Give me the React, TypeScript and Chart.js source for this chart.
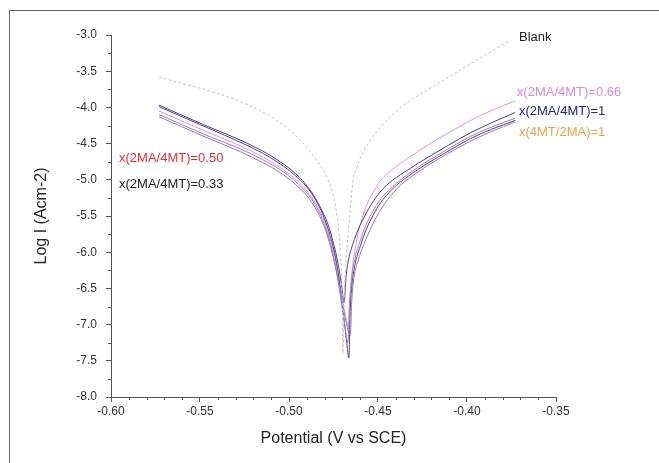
import { useEffect, useRef } from 'react';
import { Chart, registerables } from 'chart.js';

Chart.register(...registerables);

// ---- Data ----
const blankE = [-0.573, -0.560, -0.5463, -0.5275, -0.5088, -0.4938, -0.4844, -0.479, -0.4753, -0.4728, -0.4712, -0.4703, -0.4699, -0.4697,
  -0.4692, -0.4682, -0.4668, -0.4657, -0.464, -0.462, -0.459, -0.455, -0.4489, -0.44, -0.4303, -0.417, -0.4028, -0.39, -0.3755];
const blankLogI = [-3.58, -3.67, -3.76, -3.92, -4.15, -4.45, -4.73, -4.95, -5.2, -5.55, -6.0, -6.5, -7.0, -7.39,
  -6.8, -6.2, -5.75, -5.46, -5.0, -4.83, -4.65, -4.48, -4.28, -4.06, -3.88, -3.68, -3.47, -3.28, -3.07];

const r066E = [-0.573, -0.56, -0.545, -0.5275, -0.515, -0.505, -0.497, -0.49, -0.4845, -0.48, -0.4765, -0.4735, -0.471, -0.4685, -0.466,
  -0.4655, -0.4645, -0.4629, -0.461, -0.4585, -0.4555, -0.452, -0.4489, -0.442, -0.433, -0.422, -0.411, -0.398, -0.386, -0.3729];
const r066LogI = [-4.05, -4.19, -4.35, -4.53, -4.68, -4.83, -4.98, -5.15, -5.35, -5.58, -5.85, -6.15, -6.5, -6.85, -7.05,
  -6.65, -6.25, -5.97, -5.72, -5.5, -5.3, -5.14, -5.02, -4.86, -4.7, -4.52, -4.36, -4.18, -4.04, -3.91];

const r1E = [-0.573, -0.56, -0.545, -0.5275, -0.515, -0.505, -0.497, -0.491, -0.486, -0.482, -0.478, -0.475, -0.4725, -0.4705, -0.469,
  -0.468, -0.4665, -0.464, -0.461, -0.4575, -0.4535, -0.4489, -0.442, -0.433, -0.422, -0.411, -0.398, -0.386, -0.3729];
const r1LogI = [-3.97, -4.11, -4.27, -4.45, -4.6, -4.75, -4.9, -5.05, -5.22, -5.4, -5.62, -5.88, -6.15, -6.45, -6.7,
  -6.35, -6.1, -5.88, -5.68, -5.5, -5.33, -5.17, -5.01, -4.86, -4.69, -4.53, -4.35, -4.21, -4.07];

const r4mtE = [-0.573, -0.56, -0.545, -0.5275, -0.515, -0.505, -0.497, -0.49, -0.485, -0.481, -0.4775, -0.4745, -0.472, -0.47, -0.468, -0.4663,
  -0.4658, -0.4648, -0.463, -0.46, -0.4565, -0.4525, -0.4489, -0.442, -0.433, -0.422, -0.411, -0.398, -0.386, -0.3729];
const r4mtLogI = [-3.99, -4.13, -4.29, -4.48, -4.63, -4.78, -4.93, -5.1, -5.28, -5.48, -5.72, -6.0, -6.35, -6.75, -7.15, -7.46,
  -6.9, -6.5, -6.18, -5.92, -5.68, -5.48, -5.33, -5.13, -4.95, -4.77, -4.61, -4.43, -4.3, -4.18];

const r050E = [-0.573, -0.56, -0.545, -0.5275, -0.515, -0.505, -0.497, -0.49, -0.4845, -0.48, -0.4765, -0.4738, -0.4715, -0.469, -0.4668,
  -0.4662, -0.4652, -0.4635, -0.4605, -0.457, -0.453, -0.4489, -0.442, -0.433, -0.422, -0.411, -0.398, -0.386, -0.3729];
const r050LogI = [-4.1, -4.24, -4.4, -4.57, -4.72, -4.86, -5.01, -5.18, -5.38, -5.62, -5.9, -6.2, -6.55, -6.95, -7.25,
  -6.8, -6.45, -6.15, -5.88, -5.64, -5.44, -5.28, -5.1, -4.92, -4.74, -4.58, -4.4, -4.27, -4.15];

const r033E = [-0.573, -0.56, -0.545, -0.5275, -0.515, -0.505, -0.497, -0.49, -0.4845, -0.48, -0.4765, -0.4735, -0.471, -0.4685, -0.4655,
  -0.4648, -0.4635, -0.4612, -0.4584, -0.455, -0.4506, -0.4445, -0.4376, -0.428, -0.418, -0.411, -0.4, -0.386, -0.3729];
const r033LogI = [-4.13, -4.27, -4.43, -4.61, -4.76, -4.9, -5.05, -5.22, -5.42, -5.66, -5.94, -6.25, -6.55, -6.9, -7.15,
  -6.7, -6.35, -6.12, -5.92, -5.72, -5.5, -5.27, -5.08, -4.9, -4.74, -4.64, -4.49, -4.33, -4.2];

const seriesNames = ['Blank', 'x(2MA/4MT)=0.33', 'x(2MA/4MT)=0.50', 'x(4MT/2MA)=1', 'x(2MA/4MT)=1', 'x(2MA/4MT)=0.66'];
const seriesE = [blankE, r033E, r050E, r4mtE, r1E, r066E];
const seriesLogI = [blankLogI, r033LogI, r050LogI, r4mtLogI, r1LogI, r066LogI];
const seriesColors = ['#c4c4c4', '#8a80a8', '#a27ccc', '#5a3f86', '#3d3f9e', '#d596e4'];

const xTicks = [-0.6, -0.55, -0.5, -0.45, -0.4, -0.35];
const yTicks = [-8.0, -7.5, -7.0, -6.5, -6.0, -5.5, -5.0, -4.5, -4.0, -3.5, -3.0];

const labelTexts = ['Blank', 'x(2MA/4MT)=0.66', 'x(2MA/4MT)=1', 'x(4MT/2MA)=1', 'x(2MA/4MT)=0.50', 'x(2MA/4MT)=0.33'];
const labelE = [-0.3708, -0.372, -0.3708, -0.3708, -0.5955, -0.5955];
const labelLogI = [-3.04, -3.79, -4.06, -4.35, -4.71, -5.07];
const labelColors = ['#222222', '#d68ae6', '#1e2a78', '#e8a24e', '#e0303a', '#222222'];

const FONT = '"Liberation Sans", Arial, sans-serif';
const AXIS_COLOR = '#555555';

const extrasPlugin = {
  id: 'extras',
  afterDraw(chart: any) {
    const { ctx, scales } = chart;
    const xs = scales.x;
    const ys = scales.y;
    ctx.save();
    // minor ticks
    ctx.strokeStyle = AXIS_COLOR;
    ctx.lineWidth = 1;
    ctx.beginPath();
    for (let i = 0; i < xTicks.length - 1; i++) {
      const step = (xTicks[i + 1] - xTicks[i]) / 5;
      for (let k = 1; k < 5; k++) {
        const px = Math.round(xs.getPixelForValue(xTicks[i] + step * k)) + 0.5;
        ctx.moveTo(px, ys.bottom);
        ctx.lineTo(px, ys.bottom + 3);
      }
    }
    for (let i = 0; i < yTicks.length - 1; i++) {
      const mid = (yTicks[i] + yTicks[i + 1]) / 2;
      const py = Math.round(ys.getPixelForValue(mid)) + 0.5;
      ctx.moveTo(xs.left, py);
      ctx.lineTo(xs.left - 3, py);
    }
    ctx.stroke();
    // text labels
    ctx.font = '13px ' + FONT;
    ctx.textAlign = 'left';
    ctx.textBaseline = 'middle';
    for (let i = 0; i < labelTexts.length; i++) {
      ctx.fillStyle = labelColors[i];
      ctx.fillText(labelTexts[i], xs.getPixelForValue(labelE[i]), ys.getPixelForValue(labelLogI[i]));
    }
    ctx.restore();
  },
};

export default function App() {
  const canvasRef = useRef<HTMLCanvasElement | null>(null);

  useEffect(() => {
    const canvas = canvasRef.current;
    if (!canvas) return;
    const datasets = seriesNames.map((name, i) => ({
      label: name,
      data: seriesE[i].map((e, j) => ({ x: e, y: seriesLogI[i][j] })),
      borderColor: seriesColors[i],
      backgroundColor: seriesColors[i],
      borderWidth: 1,
      borderDash: i === 0 ? [3, 2] : [],
      pointRadius: 0,
      fill: false,
      cubicInterpolationMode: 'monotone' as const,
    }));
    const chart = new Chart(canvas, {
      type: 'line',
      data: { datasets },
      options: {
        animation: false,
        responsive: false,
        maintainAspectRatio: false,
        layout: { padding: { left: 0, top: 35, right: 103, bottom: 0 } },
        plugins: {
          legend: { display: false },
          tooltip: { enabled: false },
        },
        scales: {
          x: {
            type: 'linear',
            min: -0.6,
            max: -0.35,
            afterBuildTicks: (scale: any) => {
              scale.ticks = xTicks.map((v) => ({ value: v }));
            },
            afterFit: (scale: any) => {
              scale.height = 66;
            },
            grid: { display: true, drawOnChartArea: false, drawTicks: true, tickLength: 5, tickColor: AXIS_COLOR },
            border: { display: true, color: AXIS_COLOR, width: 1 },
            ticks: {
              color: '#333333',
              font: { family: FONT, size: 12 },
              padding: 2,
              maxRotation: 0,
              autoSkip: false,
              callback: (v: any) => Number(v).toFixed(2),
            },
            title: {
              display: true,
              text: 'Potential (V vs SCE)',
              color: '#222222',
              font: { family: FONT, size: 16 },
              padding: { top: 0, bottom: 15 },
            },
          },
          y: {
            type: 'linear',
            min: -8,
            max: -3,
            afterBuildTicks: (scale: any) => {
              scale.ticks = yTicks.map((v) => ({ value: v }));
            },
            afterFit: (scale: any) => {
              scale.width = 111;
            },
            grid: { display: true, drawOnChartArea: false, drawTicks: true, tickLength: 5, tickColor: AXIS_COLOR },
            border: { display: true, color: AXIS_COLOR, width: 1 },
            ticks: {
              color: '#333333',
              font: { family: FONT, size: 12 },
              padding: 9,
              autoSkip: false,
              callback: (v: any) => Number(v).toFixed(1),
            },
            title: {
              display: true,
              text: 'Log I (Acm-2)',
              color: '#222222',
              font: { family: FONT, size: 16 },
              padding: { top: 32, bottom: 0 },
            },
          },
        },
      },
      plugins: [extrasPlugin],
    });
    return () => chart.destroy();
  }, []);

  return (
    <div style={{ position: 'absolute', left: 0, top: 0, width: 659, height: 463, background: '#ffffff', overflow: 'hidden' }}>
      <div
        style={{
          position: 'absolute',
          left: 9,
          top: 10,
          right: -2,
          bottom: -2,
          borderTop: '1px solid #6a6a6a',
          borderLeft: '1px solid #6a6a6a',
        }}
      />
      <canvas ref={canvasRef} width={659} height={463} style={{ position: 'absolute', left: 0, top: 0, width: 659, height: 463 }} />
    </div>
  );
}
